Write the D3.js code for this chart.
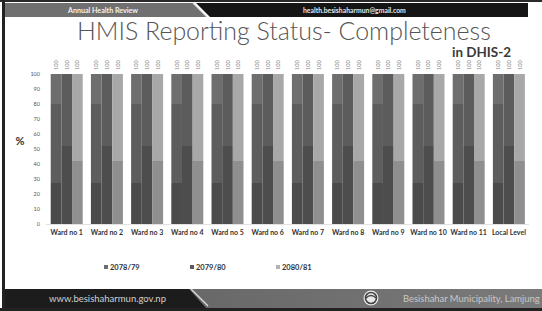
<!DOCTYPE html>
<html><head><meta charset="utf-8">
<script src="https://cdn.jsdelivr.net/npm/d3@7"></script>
<style>
html,body{margin:0;padding:0;background:#fff;}
svg{display:block;font-family:Lato,"Open Sans",sans-serif;}
</style></head>
<body><svg id="c" width="542" height="311"></svg>
<script>
// ---- data ----
const categories = ["Ward no 1","Ward no 2","Ward no 3","Ward no 4","Ward no 5","Ward no 6","Ward no 7","Ward no 8","Ward no 9","Ward no 10","Ward no 11","Local Level"];
const seriesNames = ["2078/79","2079/80","2080/81"];
const values2078 = [100,100,100,100,100,100,100,100,100,100,100,100];
const values2079 = [100,100,100,100,100,100,100,100,100,100,100,100];
const values2080 = [100,100,100,100,100,100,100,100,100,100,100,100];
const yTicks = [0,10,20,30,40,50,60,70,80,90,100];

const seriesValues = [values2078, values2079, values2080];

// ---- styles ----
const legendColors = ["#6e6e6e","#5a5a5a","#b2b2b2"];
// grayscale banding of the bars (offset = fraction from bottom)
const bandStyles = [
  [[0,"#4b4b4b"],[0.27,"#5d5d5d"],[0.80,"#6e6e6e"]],
  [[0,"#4d4d4d"],[0.52,"#5c5c5c"]],
  [[0,"#8f8f8f"],[0.42,"#a8a8a8"]]
];

const svg = d3.select("#c");
const W = 542, H = 311;

function fit(sel, target){
  const n = sel.node(); const w = n.getComputedTextLength();
  if (w>0){ const fs = parseFloat(sel.attr("font-size")); sel.attr("font-size", fs*target/w); }
}

// ---- frame / header ----
svg.append("rect").attr("x",0).attr("y",0).attr("width",W).attr("height",H).attr("fill","#fff");
svg.append("rect").attr("x",0).attr("y",0).attr("width",W).attr("height",2).attr("fill","#2a2a2a");
svg.append("rect").attr("x",2).attr("y",0).attr("width",3).attr("height",H).attr("fill","#222");
svg.append("path").attr("d","M5,3 L193,3 L207,17 L5,17 Z").attr("fill","#707070");
svg.append("path").attr("d","M196,3 L528,3 L528,17 L210,17 Z").attr("fill","#151515");
svg.append("path").attr("d","M193,3 L207,17").attr("stroke","#ddd").attr("stroke-width",1.2);
const t1 = svg.append("text").attr("x",68).attr("y",13).attr("font-size",7).attr("font-weight","bold").attr("fill","#f2f2f2").text("Annual Health Review");
fit(t1,70);
const t2 = svg.append("text").attr("x",303).attr("y",13).attr("font-size",6.5).attr("font-weight","bold").attr("fill","#e8e8e8").text("health.besishaharmun@gmail.com");
fit(t2,103);

// ---- title ----
const title = svg.append("text").attr("x",77).attr("y",40).attr("font-size",24).attr("font-weight",300).attr("fill","#555").text("HMIS Reporting Status- Completeness");
fit(title,414);
const sub = svg.append("text").attr("x",452).attr("y",57).attr("font-size",13).attr("font-weight","bold").attr("fill","#3a3a3a").text("in DHIS-2");
fit(sub,59);

// ---- scales ----
const x0 = d3.scaleBand().domain(categories).range([46.7,528.9]).paddingInner(0.204).paddingOuter(0.1);
const x1 = d3.scaleBand().domain(seriesNames).range([0,x0.bandwidth()]).padding(0);
const y = d3.scaleLinear().domain([0,100]).range([224,74]);

const defs = svg.append("defs");
bandStyles.forEach((stops,i)=>{
  const g = defs.append("linearGradient").attr("id","g"+i).attr("x1",0).attr("y1",1).attr("x2",0).attr("y2",0);
  stops.forEach((s,j)=>{
    const next = stops[j+1] ? stops[j+1][0] : 1;
    g.append("stop").attr("offset",s[0]).attr("stop-color",s[1]);
    g.append("stop").attr("offset",next).attr("stop-color",s[1]);
  });
});

// y axis
const yAxis = svg.append("g").attr("transform","translate(41,0)")
  .call(d3.axisLeft(y).tickValues(yTicks).tickSize(0).tickPadding(1));
yAxis.select(".domain").remove();
yAxis.selectAll("text").attr("font-size",5.5).attr("fill","#555").attr("font-family","Lato,sans-serif");

svg.append("text").attr("x",20).attr("y",145).attr("text-anchor","middle").attr("font-size",11).attr("font-weight","bold").attr("fill","#333").text("%");

svg.append("line").attr("x1",46).attr("x2",529).attr("y1",y(0)+0.5).attr("y2",y(0)+0.5).attr("stroke","#e2e2e2").attr("stroke-width",1);

// bars
const groups = svg.append("g").selectAll("g").data(categories).join("g")
  .attr("transform",d=>`translate(${x0(d)},0)`);
groups.each(function(cat,ci){
  const g = d3.select(this);
  seriesNames.forEach((s,si)=>{
    const v = seriesValues[si][ci];
    g.append("rect").attr("x",x1(s)).attr("y",y(v)).attr("width",x1.bandwidth()).attr("height",y(0)-y(v))
      .attr("fill",`url(#g${si})`);
    g.append("text").attr("transform",`translate(${x1(s)+x1.bandwidth()/2+2},${y(v)-4}) rotate(-90)`)
      .attr("font-size",5.6).attr("fill","#888").text(v);
  });
});

// x axis labels
const xAxis = svg.append("g").attr("transform",`translate(0,${y(0)})`)
  .call(d3.axisBottom(x0).tickSize(0).tickPadding(6));
xAxis.select(".domain").remove();
xAxis.selectAll("text").attr("font-size",7).attr("font-weight","bold").attr("fill","#333").attr("font-family","Lato,sans-serif");

// legend
const legX = [104,190,276];
seriesNames.forEach((s,i)=>{
  svg.append("rect").attr("x",legX[i]).attr("y",265).attr("width",4).attr("height",4).attr("fill",legendColors[i]);
  svg.append("text").attr("x",legX[i]+6).attr("y",269.5).attr("font-size",7.5).attr("font-weight","bold").attr("fill","#333").text(s);
});

// ---- footer ----
svg.append("rect").attr("x",0).attr("y",308).attr("width",W).attr("height",3).attr("fill","#222");
const fg = defs.append("linearGradient").attr("id","fg").attr("x1",0).attr("x2",1);
fg.append("stop").attr("offset",0).attr("stop-color","#5f5f5f");
fg.append("stop").attr("offset",1).attr("stop-color","#7a7a7a");
svg.append("rect").attr("x",5).attr("y",289).attr("width",W-5).attr("height",19).attr("fill","url(#fg)");
svg.append("path").attr("d","M5,289 L189,289 L206,308 L5,308 Z").attr("fill","#1c1c1c");
svg.append("path").attr("d","M191,289 L208,306").attr("stroke","#e0e0e0").attr("stroke-width",1.3);
const f1 = svg.append("text").attr("x",49).attr("y",302).attr("font-size",10).attr("fill","#d0d0d0").text("www.besishaharmun.gov.np");
fit(f1,117);
svg.append("circle").attr("cx",371).attr("cy",298).attr("r",7.5).attr("fill","#e8e8e8");
svg.append("circle").attr("cx",371).attr("cy",298).attr("r",5.5).attr("fill","none").attr("stroke","#444").attr("stroke-width",1.6);
svg.append("path").attr("d","M366,298 Q371,293 376,298").attr("fill","none").attr("stroke","#444").attr("stroke-width",1.2);
const f2 = svg.append("text").attr("x",403).attr("y",302).attr("font-size",9).attr("fill","#c8c8c8").text("Besishahar Municipality, Lamjung");
fit(f2,137);
</script></body></html>
